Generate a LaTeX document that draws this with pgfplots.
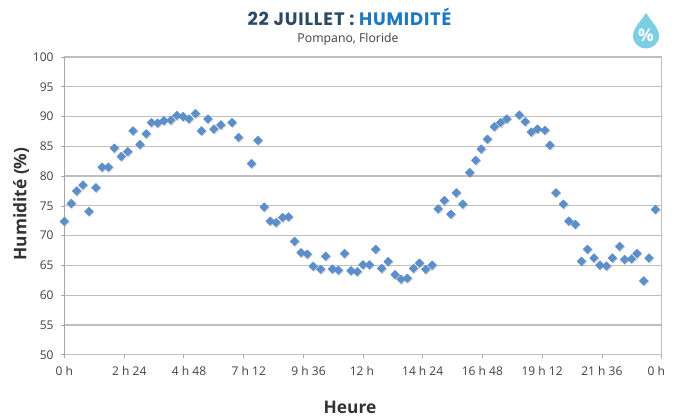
\documentclass[border=0pt]{standalone}
\usepackage{pgfplots}
\pgfplotsset{compat=1.18}
\usepackage{pgfplotstable}
\usepackage{fontspec}
\setmainfont{Open Sans}
\newfontfamily\titlefont[LetterSpace=4.7]{Poppins}
\definecolor{titledark}{HTML}{2C4A63}
\definecolor{titleblue}{HTML}{1F78C0}
\definecolor{gridc}{HTML}{BFBFBF}
\definecolor{axisc}{HTML}{A6A6A6}
\definecolor{txt}{HTML}{404040}
\definecolor{markc}{HTML}{5B8FCB}
\definecolor{dropc}{HTML}{7CCFE3}
\pgfplotstableread{
h v
0 72.4
0.28 75.4
0.50 77.5
0.75 78.5
0.99 74.05
1.27 78.05
1.52 81.5
1.77 81.5
2.01 84.7
2.29 83.3
2.55 84.1
2.76 87.6
3.04 85.3
3.29 87.1
3.50 89.0
3.75 88.9
4.00 89.3
4.28 89.4
4.52 90.2
4.77 90.0
5.01 89.6
5.27 90.5
5.51 87.6
5.77 89.6
6.01 87.9
6.29 88.6
6.74 89.0
7.00 86.5
7.52 82.1
7.78 86.0
8.03 74.8
8.27 72.45
8.51 72.2
8.77 73.05
9.01 73.15
9.25 69.05
9.51 67.15
9.76 66.9
10.00 64.85
10.30 64.35
10.50 66.55
10.77 64.4
11.01 64.2
11.26 67.0
11.52 64.1
11.77 63.95
12.00 65.1
12.26 65.1
12.51 67.7
12.75 64.5
13.01 65.65
13.29 63.45
13.53 62.7
13.78 62.85
14.03 64.5
14.27 65.4
14.52 64.35
14.78 65.05
15.02 74.5
15.27 75.9
15.53 73.6
15.75 77.2
16.01 75.3
16.29 80.6
16.53 82.65
16.75 84.55
17.00 86.2
17.28 88.3
17.53 89.0
17.78 89.6
18.28 90.25
18.52 89.15
18.76 87.4
19.01 87.9
19.31 87.7
19.51 85.2
19.75 77.2
20.05 75.3
20.27 72.45
20.53 71.9
20.78 65.7
21.02 67.7
21.28 66.25
21.52 65.05
21.78 64.9
22.02 66.25
22.31 68.2
22.51 66.0
22.79 66.1
23.01 67.0
23.28 62.4
23.49 66.25
23.75 74.4
}\humid
\begin{document}
\begin{tikzpicture}[x=0.75pt,y=-0.75pt,yshift=312.75pt]
\path[use as bounding box] (0,0) rectangle (678,417);
\begin{axis}[
  at={(48.2pt,46.7pt)}, anchor=south west,
  yshift=-312.75pt,
  scale only axis, width=448pt, height=223.3pt,
  xmin=0, xmax=24, ymin=50, ymax=100,
  xtick={0,2.4,4.8,7.2,9.6,12,14.4,16.8,19.2,21.6,24},
  xticklabels={0 h,\hspace*{8pt}2 h 24,\hspace*{8pt}4 h 48,\hspace*{8pt}7 h 12,\hspace*{8pt}9 h 36,12 h\hspace*{1.5pt},14 h 24,16 h 48,19 h 12,21 h 36,0 h\hspace*{8pt}},
  ytick={50,55,...,100},
  ymajorgrids,
  grid style={gridc,line width=0.9pt},
  axis line style={gridc,line width=0.9pt},
  axis x line*=bottom, axis y line*=left,
  tick style={axisc,line width=0.5pt},
  tick align=outside,
  major tick length=2.5pt,
  ticklabel style={font=\fontsize{9}{10}\selectfont,text=txt},
  /pgf/number format/assume math mode=true,
  xticklabel style={yshift=-3pt},
  yticklabel style={xshift=-2pt},
  clip=false,
]
\draw[gridc,line width=0.9pt] (axis cs:24,50)--(axis cs:24,100)--(axis cs:0,100);
\draw[axisc,line width=0.7pt] (axis cs:0,50)--(axis cs:0,100);
\addplot[only marks,color=gray,mark=square*,mark size=2.5pt,mark options={rotate=45,fill=gray,draw=gray,opacity=0.3,yshift=-0.6pt}] table[x=h,y=v]{\humid};
\addplot[only marks,color=markc,mark=square*,mark size=2.3pt,mark options={rotate=45,fill=markc,draw=markc,line width=0.2pt}] table[x=h,y=v]{\humid};
\end{axis}
\node[anchor=center,font=\titlefont\bfseries\fontsize{13.5}{15}\selectfont] at (349.5,17.2) {\textcolor{titledark}{22 JUILLET :} \textcolor{titleblue}{HUMIDITÉ}};
\node[anchor=center,text=txt,font=\fontsize{9.2}{11}\selectfont] at (348,39.3) {Pompano, Floride};
\node[anchor=center,text=black!80,font=\bfseries\fontsize{13}{15}\selectfont] at (350,407) {Heure};
\node[anchor=center,text=black!80,rotate=90,font=\bfseries\fontsize{13}{15}\selectfont] at (21,204) {Humidité (\%)};
\fill[dropc] (646,13) .. controls (651,21) and (659,28) .. (659,36) .. controls (659,44) and (652,48.5) .. (646,48.5) .. controls (640,48.5) and (633,44) .. (633,36) .. controls (633,28) and (641,21) .. (646,13) -- cycle;
\node[anchor=center,text=white,font=\bfseries\fontsize{13}{15}\selectfont] at (646,35.5) {\%};
\end{tikzpicture}
\end{document}
